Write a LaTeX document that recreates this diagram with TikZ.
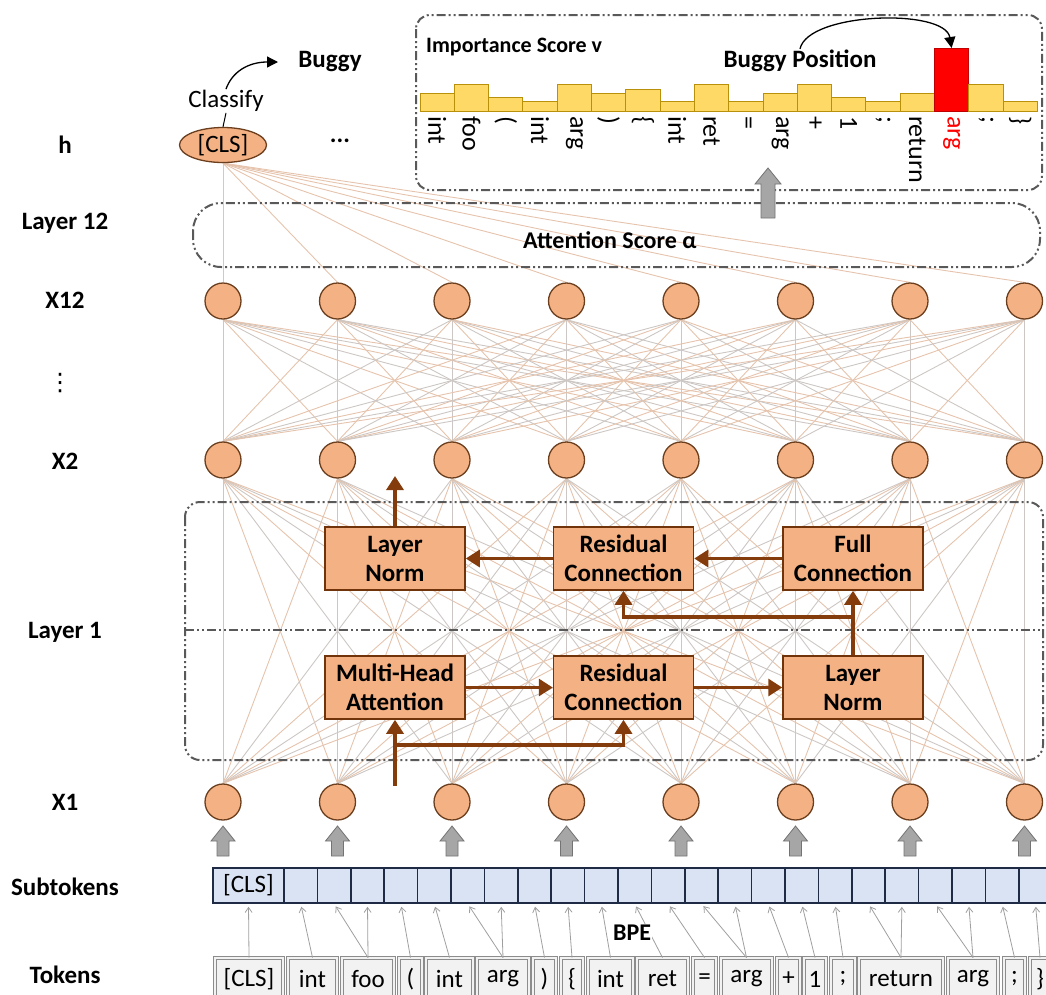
\documentclass[tikz,border=0pt]{standalone}
\usepackage{fontspec}
\setmainfont{Carlito}
\newfontfamily\djv{DejaVu Sans}
\usetikzlibrary{arrows.meta,shapes.geometric,backgrounds}
\definecolor{nodefill}{HTML}{F4B183}
\definecolor{nodedraw}{HTML}{6B3E1E}
\definecolor{arrowbrown}{HTML}{843C0C}
\definecolor{boxgray}{HTML}{595959}
\definecolor{linegray}{HTML}{CCC7C4}
\definecolor{linetan}{HTML}{E5C3AC}
\definecolor{barfill}{HTML}{FFD966}
\definecolor{bardraw}{HTML}{B8900A}
\definecolor{subfill}{HTML}{DAE3F3}
\definecolor{subdraw}{HTML}{1F2A44}
\definecolor{tokfill}{HTML}{F2F2F2}
\definecolor{tokdraw}{HTML}{8C8C8C}
\definecolor{grayarrow}{HTML}{A6A6A6}
\begin{document}
\begin{tikzpicture}[x=1pt,y=-1pt,
  lbl/.style={font=\fontsize{25}{28}\selectfont\bfseries, inner sep=1},
  neuron/.style={circle, fill=nodefill, draw=nodedraw, line width=1.3, minimum size=36, inner sep=0},
  block/.style={rectangle, fill=nodefill, draw=arrowbrown!85!black, line width=1.5, minimum width=140, minimum height=63, align=center, font=\fontsize{25}{29}\selectfont\bfseries, inner sep=0},
  flow/.style={draw=arrowbrown, line width=3.2, -{Triangle[length=14,width=17]}},
  ddbox/.style={draw=boxgray, line width=2, dash pattern=on 9pt off 3pt on 2pt off 3pt on 2pt off 3pt},
  conn/.style={line width=0.9},
  subtok/.style={rectangle, draw=subdraw, line width=1.6, fill=subfill, minimum height=35, inner sep=0, font=\fontsize{25}{28}\selectfont},
  tok/.style={rectangle, draw=tokdraw, line width=0.9, double=tokfill, double distance=2, fill=tokfill, minimum height=42, inner sep=0, font=\fontsize{25}{28}\selectfont},
  bpe/.style={draw=gray!75, line width=0.8, -{Straight Barb[length=5,width=7]}, shorten >=3},
  bar/.style={line width=1},
  blockarrow/.style={fill=grayarrow, draw=gray!90!black, line width=0.8},
  rotlbl/.style={rotate=-90, anchor=west, inner sep=1, font=\fontsize{26}{28}\selectfont},
]
\useasboundingbox (0,0) rectangle (1046,994);

% ---------- left labels
\foreach \t/\y/\n in {h/145/lh, Layer 12/223/lay12, X12/300/lx12, X2/461/lx2, Layer 1/632/lay1, X1/802/lx1, Subtokens/887/lsub, Tokens/975/ltok}
  \node[lbl] (\n) at (65,\y) {\t};
\node[font=\djv\fontsize{24}{28}\selectfont, inner sep=0] (ldots) at (60,383) {⋮};

% ---------- neurons
\def\cols{223,337.5,452,566.5,681,795.5,910,1024.5}
\foreach \x [count=\i] in \cols {
  \node[neuron] (a\i) at (\x,301) {};
  \node[neuron] (b\i) at (\x,460) {};
  \node[neuron] (c\i) at (\x,802) {};
}
\node[ellipse, fill=nodefill, draw=nodedraw, line width=1.3, minimum width=87, minimum height=35, inner sep=0, font=\fontsize{25}{28}\selectfont] (cls) at (223,145) {[CLS]};
\node[font=\fontsize{25}{28}\selectfont\bfseries] (hdots) at (340,141) {...};

% ---------- connections (background)
\begin{scope}[on background layer]
\foreach \i in {1,...,8} \foreach \j in {1,...,8} {
  \pgfmathtruncatemacro\m{mod(\i+\j,2)}
  \ifnum\m=0 \def\cc{linegray}\else\def\cc{linetan}\fi
  \draw[conn,draw=\cc] (a\i.south) -- (b\j.north);
  \draw[conn,draw=\cc] (b\i.south) -- (c\j.north);
}
\foreach \j in {1,...,8} \draw[conn,draw=linetan] (cls.south) -- (a\j.north);
\end{scope}

% ---------- classify
\node[font=\fontsize{25}{28}\selectfont, inner sep=1] (clf) at (226,101) {Classify};
\draw[line width=1] (cls.north) -- (clf.south);
\node[lbl] (bug) at (330,62) {Buggy};
\coordinate (bugtip) at (278,62);
\draw[line width=1.3, -{Triangle[length=11,width=11]}] (clf.north) .. controls (232,72) and (248,62) .. (bugtip);

% ---------- importance score box
\draw[ddbox, rounded corners=14] (416,15) rectangle (1042,190);
\node[font=\fontsize{22}{24}\selectfont\bfseries, anchor=west, inner sep=0] (imp) at (426,47) {Importance Score v};
\def\hts{18,27,14,10,27,18,22,10,27,10,18,27,14,10,18,63,27,10}
\foreach \h [count=\i] in \hts {
  \pgfmathsetmacro\xl{420+34.3*(\i-1)}
  \pgfmathsetmacro\xr{420+34.3*\i}
  \pgfmathsetmacro\yt{111-\h}
  \ifnum\i=16
    \filldraw[bar, fill=red, draw=red!75!black] (\xl,111) rectangle (\xr,\yt);
  \else
    \filldraw[bar, fill=barfill, draw=bardraw] (\xl,111) rectangle (\xr,\yt);
  \fi
}
\foreach \t [count=\i] in {int,foo,{(},int,arg,{)},{\{},int,ret,{=},arg,{+},1,{;},return,arg,{;},{\}}} {
  \pgfmathsetmacro\xc{420+34.3*(\i-0.5)}
  \ifnum\i=16 \def\tc{red}\else\def\tc{black}\fi
  \node[rotlbl, text=\tc] (v\i) at (\xc,115) {\t};
}
\node[lbl] (bp) at (800,61) {Buggy Position};
\coordinate (redtop) at (951.6,48);
\draw[line width=1.3, -{Triangle[length=11,width=11]}] (bp.north) .. controls (808,12) and (945,8) .. (redtop);

% ---------- layer 12 box
\draw[ddbox, rounded corners=28] (193,203) rectangle (1040,267);
\node[font=\fontsize{24}{28}\selectfont\bfseries, anchor=west, inner sep=0] (att) at (523,240) {Attention Score α};
\filldraw[blockarrow] (761,218) -- (761,184) -- (755,184) -- (768,168) -- (781,184) -- (775,184) -- (775,218) -- cycle;

% ---------- layer 1 box
\draw[ddbox, rounded corners=15] (185,502) rectangle (1043,760);
\draw[ddbox] (185,630) -- (1043,630);

\node[block] (ln1) at (395,558.5) {Layer\\Norm};
\node[block] (rc1) at (623.5,558.5) {Residual\\Connection};
\node[block] (fc)  at (853,558.5) {Full\\Connection};
\node[block] (mha) at (395,687.5) {Multi-Head\\Attention};
\node[block] (rc2) at (623.5,687.5) {Residual\\Connection};
\node[block] (ln2) at (853,687.5) {Layer\\Norm};

\coordinate (x2in) at (395,476);
\coordinate (br1) at (853,617);
\coordinate (inp) at (395,786);
\coordinate (br2) at (395,745);
\draw[flow] (ln1.north) -- (x2in);
\draw[flow] (rc1.west) -- (ln1.east);
\draw[flow] (fc.west) -- (rc1.east);
\draw[flow] (ln2.north) -- (fc.south);
\draw[flow] (br1) -| (rc1.south);
\draw[flow] (mha.east) -- (rc2.west);
\draw[flow] (rc2.east) -- (ln2.west);
\draw[flow] (inp) -- (mha.south);
\draw[flow] (br2) -| (rc2.south);

% ---------- gray block arrows under X1
\foreach \x in \cols
  \filldraw[blockarrow] (\x-6,856) -- (\x-6,841) -- (\x-12,841) -- (\x,826) -- (\x+12,841) -- (\x+6,841) -- (\x+6,856) -- cycle;

% ---------- subtokens
\node[subtok, minimum width=71] (s0) at (248.5,885.5) {[CLS]};
\foreach \k in {1,...,23} {
  \pgfmathsetmacro\xc{284+33.4*(\k-1)+16.7}
  \node[subtok, minimum width=33.4] (s\k) at (\xc,885.5) {};
}

% ---------- tokens
\foreach \i/\l/\r/\t in {0/215/283/{[CLS]}, 1/288/337/int, 2/342/394/foo, 3/399/422/{(}, 4/426/473/int, 5/477/529/arg, 6/533/556/{)}, 7/561/583/{\{}, 8/588/633/int, 9/637/688/ret, 10/693/716/{=}, 11/721/772/arg, 12/777/800/{+}, 13/804/826/1, 14/831/855/{;}, 15/859/943/return, 16/948/998/arg, 17/1004/1025/{;}, 18/1030/1050/{\}}} {
  \pgfmathsetmacro\xc{(\l+\r)/2}
  \pgfmathsetmacro\w{\r-\l}
  \node[tok, minimum width=\w] (t\i) at (\xc,979) {\t};
}
\foreach \t/\s in {0/0,1/1,2/2,2/3,3/4,4/5,5/6,5/7,6/8,7/9,8/10,9/11,10/12,11/13,11/14,12/15,13/16,14/17,15/18,15/19,16/20,16/21,17/22,18/23}
  \draw[bpe] (t\t.north) -- (s\s.south);
\node[font=\fontsize{24}{28}\selectfont\bfseries, fill=white, inner sep=1] (bpelbl) at (632,933) {BPE};
\end{tikzpicture}
\end{document}
